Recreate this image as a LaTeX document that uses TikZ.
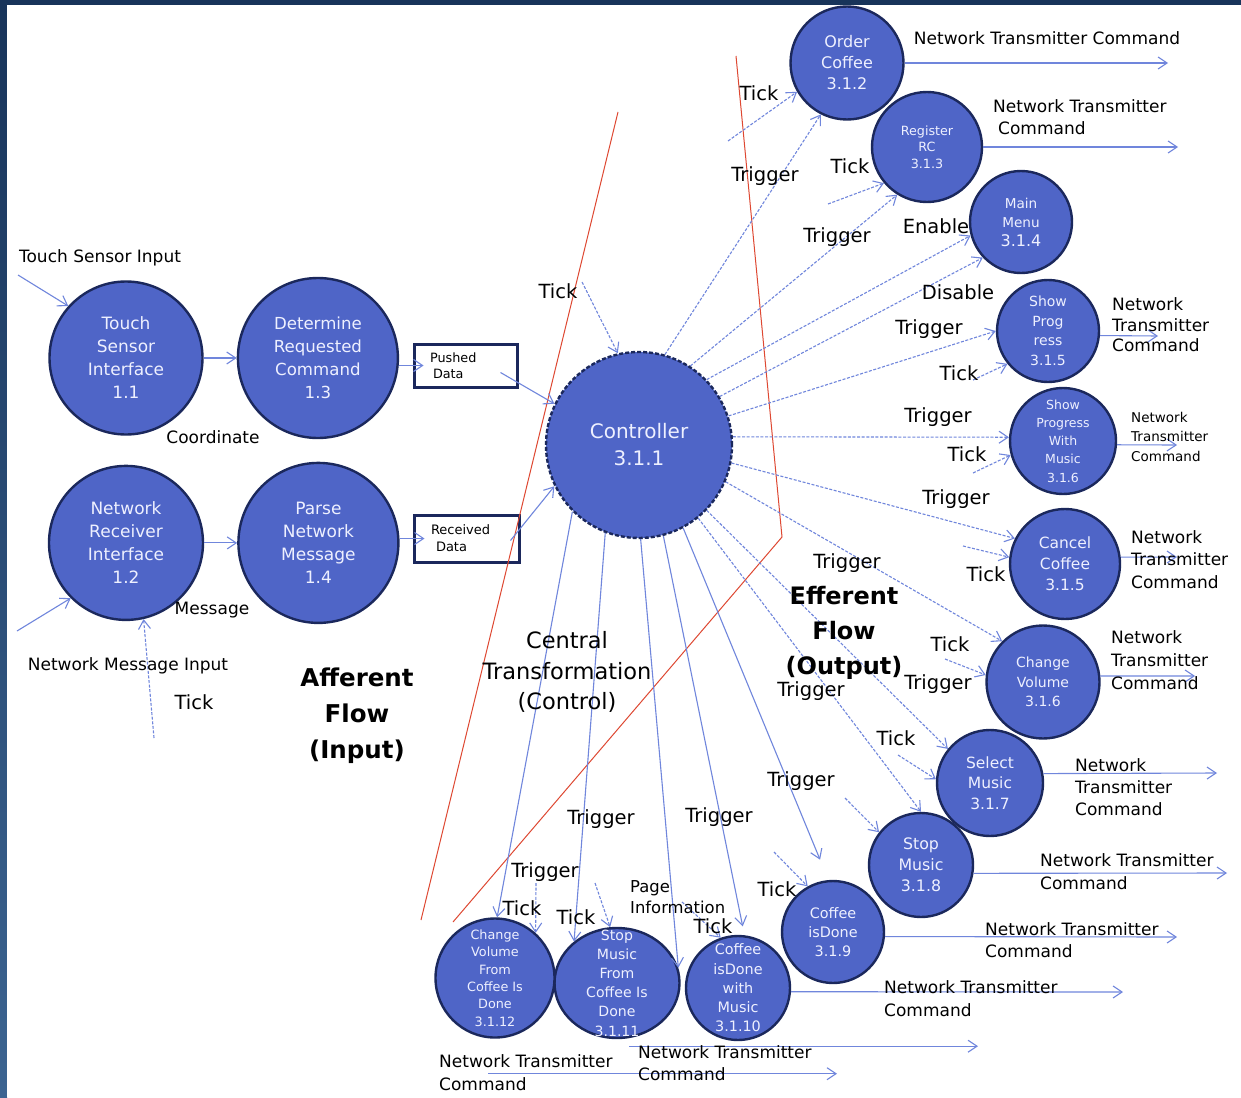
\documentclass[tikz,border=0pt]{standalone}
\usepackage{fontspec}
\setmainfont{DejaVu Sans}
\usetikzlibrary{shapes.geometric, positioning, arrows.meta, calc}

\definecolor{procfill}{RGB}{79,101,199}
\definecolor{procline}{RGB}{27,40,92}
\definecolor{proctext}{RGB}{238,240,255}
\definecolor{flowblue}{RGB}{112,134,220}
\definecolor{divred}{RGB}{222,72,50}
\definecolor{framenavy}{RGB}{24,52,90}
\definecolor{framelow}{RGB}{60,100,145}

\newcommand{\fsz}[2]{\fontsize{#1}{#2}\selectfont}

\tikzset{
  proc/.style={circle, draw=procline, line width=2.4pt, fill=procfill, text=proctext, align=center, inner sep=-20pt},
  store/.style={rectangle, draw=procline, line width=3pt, align=left, inner ysep=0pt, font=\fsz{12.8}{15.5}},
  flow/.style={draw=flowblue, line width=1.1pt, -{Straight Barb[length=9pt,width=12pt]}},
  cflow/.style={flow, dash pattern=on 3pt off 1.6pt},
  divider/.style={draw=divred, line width=1pt},
  lbl/.style={inner sep=0pt, font=\fsz{19.5}{23}},
  note/.style={inner sep=0pt, align=left, font=\fsz{17}{22.5}}
}

\begin{document}
\begin{tikzpicture}[x=1pt, y=1pt, node distance=29pt and 33pt]
\useasboundingbox (0,0) rectangle (1241,-1097);

% Fondo
\shade[top color=framenavy, bottom color=framelow] (0,0) rectangle (7,-1097);
\fill[framenavy] (0,0) rectangle (1241,-5);
\fill[white] (7,-5) rectangle (1241,-1097);

% Flujo aferente
\node (ts) [proc, minimum size=153pt, font=\fsz{17}{23}] at (126,-358) {Touch\\Sensor\\Interface\\1.1};
\node (dc) [proc, minimum size=160pt, right=of ts, font=\fsz{16.6}{23}] {Determine\\Requested\\Command\\1.3};
\node (nr) [proc, minimum size=154pt, below=of ts, font=\fsz{17}{23}] {Network\\Receiver\\Interface\\1.2};
\node (pn) [proc, minimum size=160pt, right=of nr, font=\fsz{17}{23}] {Parse\\Network\\Message\\1.4};

\node (pd) [store, minimum width=103pt, minimum height=43pt, inner xsep=16pt, text width=71pt] at (465.5,-365.5) {Pushed\\\hspace{3pt}Data};
\node (rd) [store, minimum width=105pt, minimum height=47pt, inner xsep=17pt, text width=71pt, font=\fsz{13}{17}] at (466.5,-538.5) {Received\\\hspace{5pt}Data};

% Transformacion central
\node (ctrl) [proc, dash pattern=on 4pt off 2pt, minimum size=186pt, font=\fsz{20}{27}] at (639,-445) {Controller\\3.1.1};

% Flujo eferente
\node (oc) [proc, minimum size=113pt, font=\fsz{16}{21}] at (847,-63) {Order\\Coffee\\3.1.2};
\node (rc) [proc, minimum size=110pt, font=\fsz{12.7}{16.5}] at (927,-147) {Register\\RC\\3.1.3};
\node (mm) [proc, minimum size=102pt, font=\fsz{13.6}{19}] at (1021,-222) {Main\\Menu\\{\fsz{16}{19}3.1.4}};
\node (sp) [proc, minimum size=102pt, font=\fsz{14}{19.5}] at (1048,-331) {Show\\Prog\\ress\\3.1.5};
\node (spm) [proc, minimum size=106pt, font=\fsz{12.5}{18.2}] at (1063,-441) {Show\\Progress\\With\\Music\\3.1.6};
\node (cc) [proc, minimum size=110pt, font=\fsz{15.5}{21}] at (1065,-564) {Cancel\\Coffee\\3.1.5};
\node (cv) [proc, minimum size=113pt, font=\fsz{14}{19.5}] at (1043,-682) {Change\\Volume\\3.1.6};
\node (sm) [proc, minimum size=106pt, font=\fsz{15.5}{20.5}] at (990,-783) {Select\\Music\\3.1.7};
\node (st) [proc, minimum size=104pt, font=\fsz{15.8}{21}] at (921,-865) {Stop\\Music\\3.1.8};
\node (cd) [proc, minimum size=102pt, font=\fsz{14.4}{19}] at (833,-932) {Coffee\\isDone\\3.1.9};
\node (cw) [proc, minimum size=104pt, font=\fsz{14.4}{19.2}] at (738,-988) {Coffee\\isDone\\with\\Music\\3.1.10};
\node (sf) [proc, ellipse, minimum width=125pt, minimum height=110pt, inner ysep=-30pt, font=\fsz{14.1}{19.2}] at (617,-983) {Stop\\Music\\From\\Coffee Is\\Done\\3.1.11};
\node (cf) [proc, minimum size=119pt, font=\fsz{12.8}{17.4}] at (495,-978) {Change\\Volume\\From\\Coffee Is\\Done\\3.1.12};

% Divisiones
\draw[divider] (618,-112) -- (421,-920);
\draw[divider] (736,-56) -- (782,-537) -- (453,-922);

% Entradas
\coordinate (tsin) at (18,-275);
\coordinate (nrin) at (17,-631);
\coordinate (nrtick) at (154,-738);
\draw[flow] (tsin) -- (ts.138);
\draw[flow] (nrin) -- (nr.225);
\draw[cflow] (nrtick) -- (nr.-77);
\draw[flow] (ts) -- (dc);
\draw[flow] (nr) -- (pn);
\draw[flow, shorten >=-11pt] (dc.east |- pd.west) -- (pd.west);
\draw[flow, shorten >=-12pt] (pn.east |- rd.west) -- (rd.west);
\draw[flow] ($(pd.center)+(35,-7)$) -- (ctrl.154);
\draw[flow] ($(rd.center)+(44,-2)$) -- (ctrl.206);
\coordinate (ctick) at (582,-282);
\draw[cflow] (ctick) -- (ctrl.103);

% Control hacia la salida
\draw[cflow] (ctrl.74) -- (oc.243);
\draw[cflow] (ctrl.57) -- (rc.238);
\draw[cflow] (ctrl.44) -- (mm.195);
\draw[cflow] (ctrl.31) -- (mm.223);
\draw[cflow] (ctrl.18) -- (sp.180);
\draw[cflow] (ctrl.5) -- (spm.176);
\draw[cflow] (ctrl.-11) -- (cc.153);
\draw[cflow] (ctrl.-23) -- (cv.135);
\draw[cflow] (ctrl.-44) -- (sm.141);
\draw[cflow] (ctrl.-51) -- (st.north);
\draw[flow, shorten >=22pt] (ctrl.-62) -- (cd.95);
\draw[flow, shorten >=9pt] (ctrl.-75) -- (cw.83);
\draw[flow] (ctrl.-89) -- (sf.14);
\draw[flow] (ctrl.-111) -- (sf.136);
\draw[flow] (ctrl.-135) -- (cf.88);

% Ticks cortos
\coordinate (t1) at (728,-141);
\coordinate (t2) at (828,-204);
\coordinate (t3) at (973,-380);
\coordinate (t4) at (973,-473);
\coordinate (t5) at (963,-546);
\coordinate (t6) at (945,-659);
\coordinate (t7) at (898,-755);
\coordinate (t8) at (845,-798);
\coordinate (t9) at (774,-852);
\coordinate (t10) at (682,-902);
\coordinate (t11) at (595,-883);
\coordinate (t12) at (536,-883);
\draw[cflow] (t1) -- (oc.210);
\draw[cflow] (t2) -- (rc.220);
\draw[cflow] (t3) -- (sp.219);
\draw[cflow] (t4) -- (spm.195);
\draw[cflow] (t5) -- (cc.173);
\draw[cflow] (t6) -- (cv.173);
\draw[cflow] (t7) -- (sm.176);
\draw[cflow] (t8) -- (st.142);
\draw[cflow] (t9) -- (cd.119);
\draw[cflow] (t10) -- (cw.109);
\draw[cflow] (t11) -- (sf.97);
\draw[cflow] (t12) -- (cf.48);

% Salidas
\coordinate (o1) at (1168,-63);
\coordinate (o2) at (1178,-147);
\coordinate (o3) at (1158,-336);
\coordinate (o4) at (1177,-445);
\coordinate (o5) at (1177,-557);
\coordinate (o6) at (1195,-676);
\coordinate (o7) at (1217,-773);
\coordinate (o8) at (1227,-873);
\coordinate (o9) at (1177,-937);
\coordinate (o10) at (1123,-992);
\draw[flow] (oc) -- (o1);
\draw[flow] (rc) -- (o2);
\draw[flow] (sp.-5) -- (o3);
\draw[flow] (spm.-4) -- (o4);
\draw[flow] (cc.7) -- (o5);
\draw[flow] (cv.6) -- (o6);
\draw[flow] (sm.10) -- (o7);
\draw[flow] (st.-9) -- (o8);
\draw[flow] (cd.-5) -- (o9);
\draw[flow] (cw.-4) -- (o10);
\draw[flow] ($(sf.south)+(12,-7)$) -- ++(349,0);
\draw[flow] ($(cf.south)+(-7,-35)$) -- ++(349,0);

% Etiquetas
\node (inTS) [note] at (100,-258) {Touch Sensor Input};
\node (coordLbl) [note] at (213,-437) {Coordinate};
\node (msgLbl) [note] at (212,-610) {Message};
\node (inNR) [note] at (128,-666) {Network Message Input};
\node (kNR) [lbl] at (194,-702) {Tick};
\node (aff) [inner sep=0pt, align=center, font=\fsz{24.5}{36}\bfseries] at (357,-716) {Afferent\\Flow\\(Input)};
\node (central) [inner sep=0pt, align=center, font=\fsz{22.5}{30.5}] at (567,-672) {Central\\Transformation\\(Control)};
\node (eff) [inner sep=0pt, align=center, font=\fsz{24}{35}\bfseries] at (844,-633) {Efferent\\Flow\\(Output)};

\node (kCtrl) [lbl] at (558,-291) {Tick};
\node (kOC) [lbl] at (759,-93) {Tick};
\node (gOC) [lbl] at (765,-176) {Trigger};
\node (kRC) [lbl] at (850,-166) {Tick};
\node (gRC) [lbl] at (837,-237) {Trigger};
\node (enMM) [lbl] at (936,-226) {Enable};
\node (disMM) [lbl] at (958,-292) {Disable};
\node (gSP) [lbl] at (929,-329) {Trigger};
\node (kSP) [lbl] at (959,-373) {Tick};
\node (gSPM) [lbl] at (938,-417) {Trigger};
\node (kSPM) [lbl] at (967,-454) {Tick};
\node (gCC) [lbl] at (956,-499) {Trigger};
\node (kCC) [lbl] at (986,-574) {Tick};
\node (gCV) [lbl] at (847,-563) {Trigger};
\node (kCV) [lbl] at (950,-644) {Tick};
\node (gSM) [lbl] at (938,-684) {Trigger};
\node (gST) [lbl] at (811,-691) {Trigger};
\node (kSM) [lbl] at (896,-738) {Tick};
\node (gST2) [lbl] at (801,-781) {Trigger};
\node (kCD) [lbl] at (777,-889) {Tick};
\node (gCW) [lbl] at (719,-817) {Trigger};
\node (gSF) [lbl] at (601,-819) {Trigger};
\node (gCF) [lbl] at (545,-872) {Trigger};
\node (kCF) [lbl] at (522,-908) {Tick};
\node (kSF) [lbl] at (576,-917) {Tick};
\node (kCW) [lbl] at (713,-926) {Tick};
\node (pgCW) [note, anchor=west, font=\fsz{16.4}{21}] at (630,-897.5) {Page\\Information};

\node (ntcOC) [note] at (1047,-38) {Network Transmitter Command};
\node (ntcRC) [note, anchor=west] at (993,-117) {Network Transmitter\\\hspace{5pt}Command};
\node (ntcSP) [note, anchor=west, font=\fsz{17}{20.5}] at (1112,-325) {Network\\Transmitter\\Command};
\node (ntcSPM) [note, anchor=west, font=\fsz{13.5}{19.5}] at (1131,-436.5) {Network\\Transmitter\\Command};
\node (ntcCC) [note, anchor=west] at (1131,-559.5) {Network\\Transmitter\\Command};
\node (ntcCV) [note, anchor=west, font=\fsz{17}{23}] at (1111,-660) {Network\\Transmitter\\Command};
\node (ntcSM) [note, anchor=west, font=\fsz{17}{22}] at (1075,-787.5) {Network\\Transmitter\\Command};
\node (ntcST) [note, anchor=west] at (1040,-871.5) {Network Transmitter\\Command};
\node (ntcCD) [note, anchor=west] at (985,-940) {Network Transmitter\\Command};
\node (ntcCW) [note, anchor=west] at (884,-998.5) {Network Transmitter\\Command};
\node (ntcSF) [note, anchor=west] at (638,-1063) {Network Transmitter\\Command};
\node (ntcCF) [note, anchor=west] at (439,-1072.5) {Network Transmitter\\Command};
\end{tikzpicture}
\end{document}
